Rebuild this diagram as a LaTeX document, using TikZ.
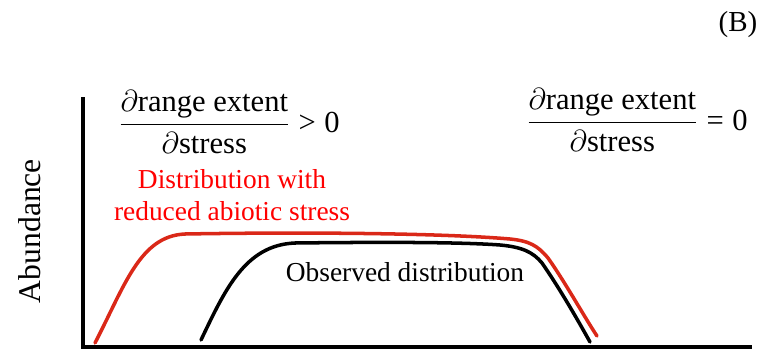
\documentclass[tikz,border=0pt]{standalone}
\usepackage{amsmath}
\usepackage{fontspec}
\setmainfont{Liberation Serif}
\usepackage{xcolor}
\usetikzlibrary{positioning}

\definecolor{curvered}{RGB}{218,40,24}

\tikzset{
    axisline/.style={line width=2.3pt},
    curveline/.style={line width=2pt, line cap=round},
    plottext/.style={font=\rmfamily\fontsize{15.6}{18.5}\selectfont, inner sep=0pt, align=center},
    slopetext/.style={font=\rmfamily\fontsize{17.4}{20}\selectfont, inner sep=0pt}
}

\begin{document}
\begin{tikzpicture}[x=0.02cm, y=-0.02cm]
    \useasboundingbox (0,0) rectangle (762,352);

    % axes
    \coordinate (origin) at (83,347);
    \coordinate (ytop) at (83,97);
    \coordinate (xend) at (752,347);
    \draw[axisline] (ytop) -- (origin) -- (xend);

    \node[inner sep=0pt, font=\rmfamily\fontsize{18}{20}\selectfont, rotate=90] (abund) at (30,231) {Abundance};
    \node[plottext, font=\rmfamily\fontsize{16.5}{18}\selectfont] (panel) at (738,25) {(B)};

    % curve with reduced stress
    \draw[
        curveline,
        color=curvered
        ] (95,343) .. controls (125,285) and (140,236) .. (185,234)
          .. controls (300,232) and (440,233) .. (510,239)
          .. controls (530,241) and (538,246) .. (548,258)
          .. controls (565,282) and (585,318) .. (597,336);

    % observed curve
    \draw[
        curveline,
        color=black
        ] (201,340) .. controls (225,290) and (245,245) .. (295,243)
          .. controls (380,242) and (460,242) .. (500,245)
          .. controls (522,247) and (533,252) .. (542,263)
          .. controls (558,286) and (575,315) .. (590,342);

    \node[plottext, text=red] (reduced) at (232,195) {Distribution with\\reduced abiotic stress};
    \node[plottext] (observed) at (405,272) {Observed distribution};

    \node[slopetext] (slopeA) at (229,122)
        {$\dfrac{\partial\text{range extent}}{\partial\text{stress}}\mathrel{\text{>}}\text{0}$};
    \node[slopetext] (slopeB) at (637,120)
        {$\dfrac{\partial\text{range extent}}{\partial\text{stress}}\mathrel{\text{=}}\text{0}$};
\end{tikzpicture}
\end{document}
